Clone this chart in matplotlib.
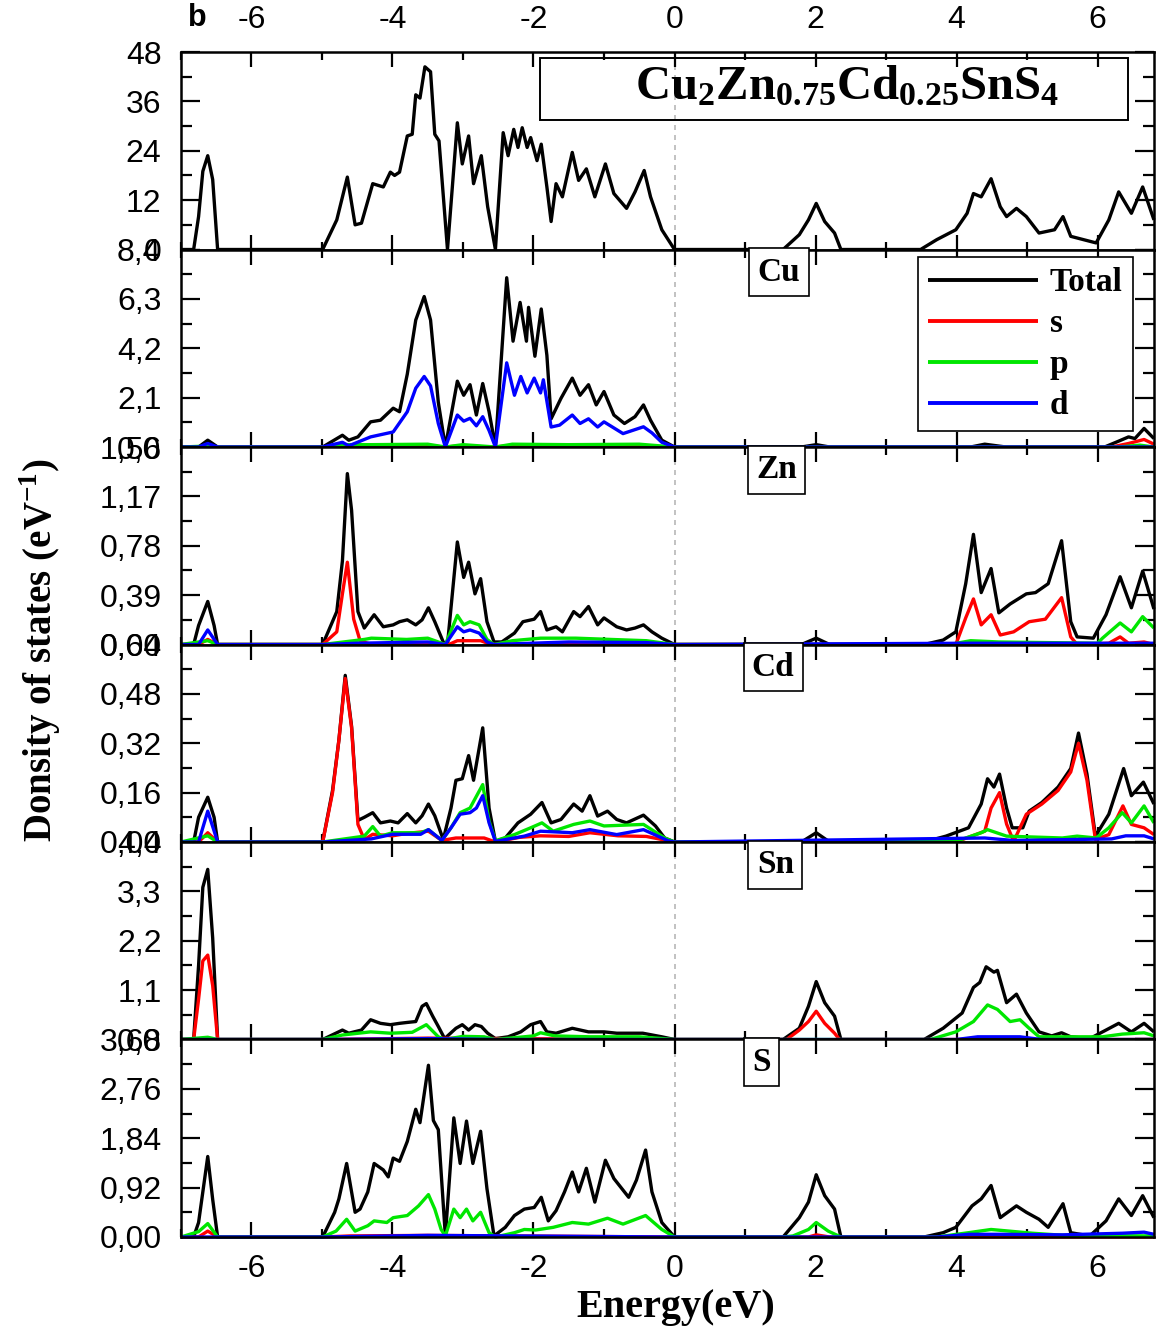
import numpy as np
import matplotlib
matplotlib.use('Agg')
import matplotlib.pyplot as plt
from matplotlib.patches import Rectangle
from matplotlib.ticker import AutoMinorLocator, MultipleLocator
import matplotlib.transforms as mtransforms

plt.rcParams['font.family'] = ['Liberation Sans', 'DejaVu Sans']
plt.rcParams['mathtext.fontset'] = 'custom'
plt.rcParams['mathtext.rm'] = 'Liberation Serif'
plt.rcParams['mathtext.bf'] = 'Liberation Serif:bold'
plt.rcParams['axes.unicode_minus'] = False

# (energy eV, DOS) pairs for each curve

tot_all = [(-7.0, 0), (-6.82, 0), (-6.75, 8), (-6.69, 19), (-6.62, 22.8), (-6.55, 17), (-6.48, 0),
           (-4.99, 0), (-4.79, 7.2), (-4.64, 17.6), (-4.53, 6), (-4.44, 6.4), (-4.28, 16), (-4.13, 15.2),
           (-4.03, 18.8), (-3.97, 18), (-3.90, 18.8), (-3.79, 27.6), (-3.72, 28), (-3.67, 37.6),
           (-3.61, 36.8), (-3.54, 44.4), (-3.46, 43.2), (-3.40, 28), (-3.34, 26.4), (-3.22, 0),
           (-3.08, 30.8), (-3.01, 20.8), (-2.92, 27.6), (-2.85, 16), (-2.74, 22.8), (-2.65, 10.4),
           (-2.54, 0), (-2.43, 28.4), (-2.36, 22.8), (-2.28, 29.2), (-2.22, 24.8), (-2.16, 29.6),
           (-2.09, 24.8), (-2.04, 27.2), (-1.95, 21.6), (-1.89, 25.6), (-1.81, 15.2), (-1.75, 6.8),
           (-1.68, 16), (-1.59, 12.8), (-1.45, 23.6), (-1.36, 16.8), (-1.25, 19.6), (-1.13, 12.8),
           (-0.98, 20.8), (-0.86, 13.6), (-0.68, 10), (-0.56, 14), (-0.43, 19.2), (-0.34, 12.8),
           (-0.18, 4.8), (0.0, 0), (1.54, 0), (1.77, 3.6), (1.90, 7.2), (2.01, 11.2), (2.13, 6.8),
           (2.27, 4), (2.36, 0), (3.49, 0), (3.72, 2.4), (3.99, 4.8), (4.15, 8.8), (4.24, 13.6),
           (4.35, 12.8), (4.49, 17.2), (4.62, 10.4), (4.71, 8), (4.85, 10), (4.99, 8), (5.17, 4),
           (5.39, 4.8), (5.51, 8), (5.62, 3.2), (5.80, 2.4), (5.98, 1.6), (6.16, 7.2), (6.30, 14),
           (6.48, 8.8), (6.64, 15.2), (6.80, 7.2)]

cu_tot = [(-7.0, 0), (-6.75, 0), (-6.62, 0.29), (-6.48, 0), (-4.99, 0), (-4.71, 0.5), (-4.62, 0.29),
          (-4.49, 0.43), (-4.31, 1.07), (-4.17, 1.14), (-3.99, 1.65), (-3.90, 1.5), (-3.79, 3.1),
          (-3.67, 5.4), (-3.55, 6.4), (-3.46, 5.4), (-3.35, 1.9), (-3.25, 0), (-3.08, 2.8), (-2.99, 2.2),
          (-2.90, 2.65), (-2.81, 1.36), (-2.72, 2.7), (-2.63, 1.5), (-2.54, 0), (-2.38, 7.2),
          (-2.29, 4.5), (-2.19, 6.15), (-2.10, 4.5), (-2.07, 5.94), (-1.98, 3.86), (-1.89, 5.87),
          (-1.81, 3.9), (-1.75, 1.2), (-1.61, 2.07), (-1.45, 2.93), (-1.34, 2.2), (-1.22, 2.65),
          (-1.11, 1.79), (-1.0, 2.36), (-0.86, 1.36), (-0.71, 1.0), (-0.56, 1.29), (-0.44, 1.79),
          (-0.34, 1.14), (-0.18, 0.29), (0.0, 0), (1.8, 0), (2.01, 0.1), (2.2, 0), (4.2, 0),
          (4.4, 0.12), (4.7, 0), (6.1, 0), (6.3, 0.25), (6.44, 0.43), (6.53, 0.36), (6.66, 0.79),
          (6.8, 0.36)]
cu_s = [(-7.0, 0), (-4.99, 0), (-4.7, 0.03), (-3.5, 0.05), (-3.25, 0), (-3.08, 0.04), (-2.54, 0),
        (-2.38, 0.05), (0.0, 0), (6.2, 0), (6.44, 0.15), (6.66, 0.32), (6.8, 0.12)]
cu_p = [(-7.0, 0), (-6.62, 0.04), (-6.48, 0), (-4.99, 0), (-4.7, 0.1), (-4.3, 0.1), (-3.5, 0.12),
        (-3.25, 0), (-3.0, 0.1), (-2.54, 0), (-2.3, 0.12), (-1.5, 0.1), (-0.5, 0.12), (0.0, 0),
        (6.3, 0), (6.6, 0.08), (6.8, 0)]
cu_d = [(-7.0, 0), (-6.75, 0), (-6.62, 0.15), (-6.48, 0), (-4.99, 0), (-4.71, 0.2), (-4.62, 0.05),
        (-4.31, 0.43), (-3.99, 0.64), (-3.79, 1.5), (-3.67, 2.5), (-3.55, 3.0), (-3.46, 2.6),
        (-3.35, 1.0), (-3.25, 0), (-3.08, 1.36), (-2.99, 1.1), (-2.90, 1.22), (-2.81, 0.9),
        (-2.72, 1.29), (-2.63, 0.7), (-2.54, 0), (-2.38, 3.58), (-2.27, 2.2), (-2.18, 3.0),
        (-2.09, 2.3), (-1.99, 2.93), (-1.90, 2.3), (-1.86, 2.86), (-1.75, 0.85), (-1.63, 0.93),
        (-1.45, 1.36), (-1.34, 1.0), (-1.22, 1.2), (-1.09, 0.85), (-1.0, 1.07), (-0.73, 0.57),
        (-0.44, 0.86), (-0.32, 0.6), (-0.18, 0.2), (0.0, 0), (6.8, 0)]

zn_tot = [(-7.0, 0), (-6.82, 0), (-6.75, 0.15), (-6.62, 0.34), (-6.53, 0.15), (-6.48, 0), (-4.99, 0),
          (-4.79, 0.26), (-4.71, 0.66), (-4.64, 1.35), (-4.58, 1.06), (-4.49, 0.26), (-4.40, 0.13),
          (-4.26, 0.235), (-4.13, 0.14), (-3.99, 0.155), (-3.90, 0.18), (-3.79, 0.195), (-3.67, 0.155),
          (-3.58, 0.195), (-3.49, 0.29), (-3.40, 0.18), (-3.28, 0.02), (-3.22, 0), (-3.08, 0.81),
          (-2.99, 0.53), (-2.92, 0.65), (-2.83, 0.4), (-2.75, 0.52), (-2.66, 0.18), (-2.56, 0.02),
          (-2.45, 0.02), (-2.27, 0.09), (-2.15, 0.18), (-1.99, 0.2), (-1.90, 0.26), (-1.81, 0.115),
          (-1.68, 0.14), (-1.59, 0.10), (-1.43, 0.26), (-1.34, 0.22), (-1.22, 0.30), (-1.09, 0.155),
          (-1.0, 0.21), (-0.82, 0.14), (-0.68, 0.115), (-0.56, 0.13), (-0.44, 0.155), (-0.32, 0.1),
          (-0.18, 0.05), (0.0, 0), (1.8, 0), (2.01, 0.05), (2.2, 0), (3.54, 0), (3.81, 0.035),
          (3.99, 0.1), (4.13, 0.48), (4.24, 0.87), (4.35, 0.41), (4.49, 0.6), (4.60, 0.25),
          (4.76, 0.32), (4.99, 0.40), (5.12, 0.41), (5.30, 0.48), (5.49, 0.82), (5.62, 0.18),
          (5.71, 0.06), (5.94, 0.05), (6.12, 0.235), (6.32, 0.535), (6.48, 0.29), (6.64, 0.58),
          (6.80, 0.28)]
zn_s = [(-7.0, 0), (-6.75, 0), (-6.62, 0.04), (-6.48, 0), (-4.99, 0), (-4.79, 0.1), (-4.71, 0.4),
        (-4.64, 0.65), (-4.55, 0.2), (-4.46, 0.03), (-4.3, 0), (-3.2, 0), (-3.08, 0.03), (-2.75, 0.03),
        (-2.6, 0), (-1.5, 0.01), (0.0, 0), (3.99, 0), (4.13, 0.21), (4.24, 0.36), (4.35, 0.155),
        (4.49, 0.235), (4.62, 0.075), (4.81, 0.1), (5.03, 0.18), (5.26, 0.2), (5.49, 0.37),
        (5.62, 0.06), (5.71, 0), (6.16, 0.01), (6.32, 0.06), (6.44, 0.01), (6.66, 0.02), (6.8, 0)]
zn_p = [(-7.0, 0), (-6.62, 0.03), (-6.48, 0), (-4.99, 0), (-4.4, 0.04), (-4.3, 0.05), (-3.8, 0.04),
        (-3.5, 0.05), (-3.25, 0), (-3.08, 0.23), (-2.99, 0.155), (-2.90, 0.18), (-2.77, 0.155),
        (-2.66, 0.04), (-2.56, 0), (-2.3, 0.03), (-1.9, 0.05), (-1.4, 0.05), (-0.9, 0.04),
        (-0.4, 0.03), (0.0, 0), (3.9, 0), (4.2, 0.03), (4.6, 0.02), (6.0, 0.01), (6.07, 0.05),
        (6.32, 0.17), (6.48, 0.1), (6.64, 0.22), (6.80, 0.13)]
zn_d = [(-7.0, 0), (-6.75, 0), (-6.62, 0.115), (-6.48, 0), (-4.99, 0), (-4.5, 0.01), (-3.5, 0.02),
        (-3.25, 0), (-3.08, 0.14), (-2.99, 0.10), (-2.90, 0.115), (-2.77, 0.09), (-2.66, 0.02),
        (-2.56, 0), (-1.5, 0.02), (-0.4, 0.015), (0.0, 0), (4.2, 0.01), (6.8, 0.01)]

cd_tot = [(-7.0, 0), (-6.82, 0), (-6.75, 0.08), (-6.62, 0.145), (-6.53, 0.08), (-6.48, 0), (-4.99, 0),
          (-4.85, 0.167), (-4.76, 0.33), (-4.67, 0.54), (-4.58, 0.375), (-4.49, 0.07), (-4.40, 0.08),
          (-4.28, 0.095), (-4.17, 0.062), (-4.03, 0.068), (-3.92, 0.062), (-3.79, 0.092),
          (-3.67, 0.062), (-3.58, 0.085), (-3.49, 0.123), (-3.40, 0.085), (-3.28, 0.008),
          (-3.17, 0.11), (-3.10, 0.2), (-3.01, 0.205), (-2.92, 0.28), (-2.85, 0.2), (-2.72, 0.37),
          (-2.63, 0.11), (-2.54, 0.002), (-2.40, 0.013), (-2.22, 0.062), (-2.04, 0.09),
          (-1.88, 0.128), (-1.75, 0.062), (-1.61, 0.073), (-1.43, 0.123), (-1.31, 0.10),
          (-1.20, 0.15), (-1.09, 0.084), (-0.95, 0.10), (-0.82, 0.073), (-0.68, 0.062),
          (-0.44, 0.087), (-0.27, 0.052), (-0.14, 0.013), (0.0, 0), (1.8, 0), (2.01, 0.03), (2.2, 0),
          (3.54, 0), (3.85, 0.019), (4.17, 0.046), (4.35, 0.123), (4.44, 0.205), (4.53, 0.178),
          (4.61, 0.22), (4.71, 0.11), (4.79, 0.046), (4.94, 0.046), (5.03, 0.10), (5.21, 0.128),
          (5.44, 0.178), (5.62, 0.238), (5.73, 0.353), (5.85, 0.22), (5.97, 0.019), (6.16, 0.09),
          (6.37, 0.238), (6.48, 0.15), (6.65, 0.194), (6.80, 0.123)]
cd_s = [(-7.0, 0), (-6.75, 0), (-6.62, 0.03), (-6.48, 0), (-4.99, 0), (-4.85, 0.16), (-4.76, 0.33),
        (-4.67, 0.53), (-4.58, 0.37), (-4.49, 0.057), (-4.40, 0.008), (-4.28, 0.025), (-4.0, 0.02),
        (-3.79, 0.028), (-3.49, 0.035), (-3.3, 0.005), (-3.1, 0.013), (-2.7, 0.013), (-2.54, 0),
        (-2.2, 0.015), (-1.9, 0.02), (-1.5, 0.018), (-1.2, 0.03), (-0.8, 0.02), (-0.4, 0.018),
        (0.0, 0), (3.99, 0), (4.40, 0.035), (4.49, 0.11), (4.61, 0.16), (4.71, 0.058), (4.81, 0.002),
        (4.99, 0.09), (5.21, 0.123), (5.44, 0.167), (5.62, 0.227), (5.73, 0.32), (5.85, 0.2),
        (5.97, 0.008), (6.16, 0.024), (6.36, 0.117), (6.48, 0.057), (6.66, 0.046), (6.80, 0.024)]
cd_p = [(-7.0, 0), (-6.62, 0.02), (-6.48, 0), (-4.99, 0), (-4.40, 0.019), (-4.28, 0.05), (-4.17, 0.019),
        (-4.0, 0.03), (-3.6, 0.03), (-3.49, 0.04), (-3.3, 0.005), (-3.17, 0.046), (-3.04, 0.095),
        (-2.90, 0.11), (-2.72, 0.186), (-2.63, 0.068), (-2.54, 0.004), (-2.27, 0.024), (-2.04, 0.046),
        (-1.88, 0.062), (-1.72, 0.035), (-1.43, 0.057), (-1.20, 0.068), (-1.0, 0.052), (-0.44, 0.057),
        (-0.14, 0.013), (0.0, 0), (3.99, 0.002), (4.35, 0.03), (4.44, 0.04), (4.71, 0.019),
        (5.5, 0.013), (5.71, 0.019), (5.98, 0.013), (6.16, 0.046), (6.35, 0.095), (6.48, 0.062),
        (6.66, 0.117), (6.80, 0.062)]
cd_d = [(-7.0, 0), (-6.75, 0), (-6.62, 0.10), (-6.48, 0), (-4.99, 0), (-4.3, 0.01), (-4.0, 0.025),
        (-3.6, 0.025), (-3.49, 0.04), (-3.3, 0.005), (-3.17, 0.046), (-3.04, 0.09), (-2.90, 0.095),
        (-2.81, 0.11), (-2.72, 0.15), (-2.63, 0.062), (-2.54, 0.002), (-2.13, 0.019), (-1.90, 0.035),
        (-1.45, 0.03), (-1.20, 0.04), (-0.82, 0.024), (-0.44, 0.04), (-0.09, 0.004), (0.0, 0),
        (4.4, 0.013), (4.8, 0.005), (6.2, 0.01), (6.4, 0.02), (6.66, 0.02), (6.8, 0.01)]

sn_tot = [(-7.0, 0), (-6.82, 0), (-6.75, 1.65), (-6.69, 3.39), (-6.62, 3.79), (-6.55, 2.26), (-6.48, 0),
          (-4.99, 0), (-4.71, 0.21), (-4.62, 0.14), (-4.44, 0.21), (-4.31, 0.44), (-4.17, 0.36),
          (-4.03, 0.33), (-3.90, 0.36), (-3.79, 0.38), (-3.67, 0.40), (-3.58, 0.74), (-3.52, 0.80),
          (-3.43, 0.52), (-3.35, 0.29), (-3.26, 0.02), (-3.10, 0.25), (-3.01, 0.33), (-2.92, 0.21),
          (-2.83, 0.33), (-2.74, 0.29), (-2.65, 0.14), (-2.54, 0.02), (-2.36, 0.06), (-2.18, 0.17),
          (-2.04, 0.33), (-1.90, 0.40), (-1.81, 0.17), (-1.68, 0.14), (-1.45, 0.25), (-1.22, 0.17),
          (-1.0, 0.17), (-0.82, 0.14), (-0.45, 0.14), (-0.18, 0.06), (0.0, 0), (1.54, 0), (1.77, 0.25),
          (1.90, 0.74), (2.01, 1.29), (2.13, 0.82), (2.27, 0.52), (2.36, 0), (3.54, 0), (3.81, 0.25),
          (4.08, 0.59), (4.24, 1.16), (4.33, 1.27), (4.42, 1.62), (4.53, 1.5), (4.58, 1.54),
          (4.71, 0.82), (4.85, 1.01), (4.99, 0.59), (5.17, 0.17), (5.35, 0.08), (5.49, 0.15),
          (5.62, 0.06), (5.89, 0.02), (6.12, 0.21), (6.30, 0.36), (6.48, 0.17), (6.66, 0.36),
          (6.80, 0.17)]
sn_s = [(-7.0, 0), (-6.82, 0), (-6.75, 0.9), (-6.69, 1.75), (-6.62, 1.88), (-6.55, 1.2), (-6.48, 0),
        (-4.99, 0), (-3.5, 0.03), (0.0, 0), (1.59, 0), (1.77, 0.21), (1.90, 0.40), (2.01, 0.63),
        (2.13, 0.36), (2.27, 0.14), (2.34, 0), (4.0, 0), (4.5, 0.03), (5.0, 0), (6.8, 0)]
sn_p = [(-7.0, 0), (-6.62, 0.05), (-6.48, 0), (-4.99, 0), (-4.71, 0.1), (-4.31, 0.17), (-4.03, 0.14),
        (-3.72, 0.16), (-3.52, 0.33), (-3.35, 0.06), (-3.26, 0), (-3.0, 0.07), (-2.7, 0.06),
        (-2.54, 0), (-2.0, 0.08), (-1.9, 0.15), (-1.7, 0.08), (-1.2, 0.06), (-0.5, 0.06), (0.0, 0),
        (3.63, 0), (3.99, 0.17), (4.24, 0.40), (4.44, 0.77), (4.58, 0.67), (4.76, 0.40),
        (4.90, 0.44), (5.03, 0.25), (5.17, 0.06), (6.07, 0.06), (6.35, 0.12), (6.66, 0.15),
        (6.80, 0.08)]
sn_d = [(-7.0, 0), (-5.0, 0), (-3.5, 0.02), (-2.5, 0), (4.0, 0), (4.3, 0.06), (4.9, 0.06), (5.2, 0),
        (6.8, 0)]

s_tot = [(-7.0, 0), (-6.82, 0), (-6.75, 0.27), (-6.62, 1.5), (-6.55, 0.7), (-6.48, 0), (-4.99, 0),
         (-4.82, 0.46), (-4.76, 0.71), (-4.65, 1.37), (-4.53, 0.46), (-4.46, 0.52), (-4.35, 0.84),
         (-4.26, 1.37), (-4.13, 1.25), (-4.06, 1.12), (-3.99, 1.47), (-3.90, 1.41), (-3.79, 1.78),
         (-3.67, 2.38), (-3.61, 2.13), (-3.49, 3.2), (-3.42, 2.17), (-3.35, 2.0), (-3.25, 0.02),
         (-3.13, 2.22), (-3.04, 1.37), (-2.95, 2.16), (-2.86, 1.37), (-2.75, 1.97), (-2.66, 0.90),
         (-2.56, 0.02), (-2.40, 0.18), (-2.27, 0.40), (-2.13, 0.52), (-1.99, 0.55), (-1.89, 0.74),
         (-1.79, 0.30), (-1.68, 0.49), (-1.56, 0.84), (-1.45, 1.21), (-1.36, 0.84), (-1.25, 1.28),
         (-1.13, 0.65), (-0.98, 1.43), (-0.86, 1.09), (-0.65, 0.74), (-0.54, 1.06), (-0.41, 1.62),
         (-0.32, 0.84), (-0.18, 0.27), (0.0, 0), (1.54, 0), (1.77, 0.36), (1.90, 0.65), (2.01, 1.16),
         (2.13, 0.77), (2.27, 0.52), (2.36, 0), (3.54, 0), (3.81, 0.08), (3.99, 0.18), (4.22, 0.58),
         (4.35, 0.71), (4.49, 0.96), (4.62, 0.36), (4.85, 0.58), (4.99, 0.46), (5.17, 0.33),
         (5.30, 0.18), (5.51, 0.62), (5.62, 0.08), (5.89, 0.02), (6.12, 0.30), (6.30, 0.71),
         (6.48, 0.40), (6.64, 0.77), (6.80, 0.36)]
s_s = [(-7.0, 0), (-6.75, 0), (-6.62, 0.11), (-6.48, 0), (-4.99, 0), (-4.6, 0.02), (-3.5, 0.03),
       (0.0, 0), (1.9, 0.0), (2.01, 0.04), (2.2, 0), (6.8, 0)]
s_p = [(-7.0, 0), (-6.75, 0.1), (-6.62, 0.25), (-6.48, 0), (-4.99, 0), (-4.8, 0.11), (-4.65, 0.33),
       (-4.53, 0.11), (-4.35, 0.21), (-4.26, 0.30), (-4.08, 0.27), (-3.99, 0.36), (-3.79, 0.40),
       (-3.63, 0.58), (-3.49, 0.79), (-3.40, 0.52), (-3.31, 0.14), (-3.25, 0.02), (-3.13, 0.52),
       (-3.04, 0.36), (-2.95, 0.52), (-2.86, 0.30), (-2.75, 0.46), (-2.63, 0.08), (-2.54, 0),
       (-2.27, 0.08), (-2.13, 0.14), (-1.97, 0.13), (-1.72, 0.18), (-1.45, 0.27), (-1.22, 0.24),
       (-0.95, 0.35), (-0.73, 0.24), (-0.41, 0.40), (-0.18, 0.14), (0.0, 0), (1.54, 0), (1.68, 0.02),
       (1.90, 0.14), (2.01, 0.27), (2.18, 0.11), (2.36, 0), (3.72, 0), (4.17, 0.08), (4.49, 0.14),
       (5.08, 0.07), (5.53, 0.03), (6.8, 0.02)]
s_d = [(-7.0, 0), (-4.99, 0), (-3.5, 0.03), (0.0, 0), (3.72, 0), (4.17, 0.05), (4.62, 0.05),
       (5.5, 0.04), (6.35, 0.07), (6.66, 0.09), (6.80, 0.05)]

# panel name, curves (total, s, p, d), y max, y step, decimals on tick labels
panels = [
    ('', [tot_all], 48, 12, 0),
    ('Cu', [cu_tot, cu_s, cu_p, cu_d], 8.4, 2.1, 1),
    ('Zn', [zn_tot, zn_s, zn_p, zn_d], 1.56, 0.39, 2),
    ('Cd', [cd_tot, cd_s, cd_p, cd_d], 0.64, 0.16, 2),
    ('Sn', [sn_tot, sn_s, sn_p, sn_d], 4.4, 1.1, 1),
    ('S', [s_tot, s_s, s_p, s_d], 3.68, 0.92, 2),
]
name_x = {'Cu': 1.48, 'Zn': 1.45, 'Cd': 1.40, 'Sn': 1.43, 'S': 1.23}
colors = ['black', '#ff0000', '#00e600', '#0000ff']
labels = ['Total', 's', 'p', 'd']

serif_bold = dict(family='Liberation Serif', weight='bold')

fig = plt.figure(figsize=(11.72, 13.37), dpi=100)
axes = fig.subplots(6, 1, sharex=True, gridspec_kw=dict(hspace=0))
fig.subplots_adjust(left=0.1544, right=0.9846, top=0.9611, bottom=0.0748)

for i, (ax, (name, curves, ymax, step, dec)) in enumerate(zip(axes, panels)):
    ax.axvline(0, color='#b8b8b8', lw=1.2, ls=(0, (3, 3)), zorder=0)
    for curve, col, lab in zip(curves, colors, labels):
        e, dos = np.array(curve).T
        ax.plot(e, dos, color=col, lw=2.4, label=lab, clip_on=False,
                solid_capstyle='butt', solid_joinstyle='round')

    ax.set_xlim(-7.0, 6.8)
    ax.set_ylim(0, ymax)
    yt = [step * k for k in range(5)]
    ax.set_yticks(yt)
    ax.set_yticklabels([('{:.%df}' % dec).format(v).replace('.', ',') for v in yt])
    ax.yaxis.set_minor_locator(AutoMinorLocator(2))
    ax.xaxis.set_major_locator(MultipleLocator(2))
    ax.xaxis.set_minor_locator(MultipleLocator(1))

    ax.tick_params(which='both', direction='in', top=True, right=True, width=1.6,
                   labelsize=23, colors='black')
    ax.tick_params(axis='x', which='major', length=11, pad=12)
    ax.tick_params(axis='x', which='minor', length=6)
    ax.tick_params(axis='y', which='major', length=14, pad=14)
    ax.tick_params(axis='y', which='minor', length=8)
    for sp in ax.spines.values():
        sp.set_linewidth(1.8)

    if i == 0:
        ax.tick_params(axis='x', labeltop=True)
        ax.add_patch(Rectangle((-1.91, 31.5), 8.34, 15.0, fill=False, ec='black', lw=1.4))
        ax.text(2.45, 39.5, r'$\mathbf{Cu_2Zn_{0.75}Cd_{0.25}SnS_4}$', fontsize=35,
                ha='center', va='center')
    else:
        trans = mtransforms.blended_transform_factory(ax.transData, ax.transAxes)
        ax.text(name_x[name], 0.885, name, transform=trans, fontsize=24, ha='center',
                va='center', bbox=dict(boxstyle='square,pad=0.25', fc='white', ec='black', lw=1.2),
                **serif_bold)

    if name == 'Cu':
        leg = ax.legend(loc='upper right', bbox_to_anchor=(0.978, 0.96), borderaxespad=0,
                        fancybox=False, edgecolor='black', framealpha=1, handlelength=3.3,
                        handletextpad=0.35, labelspacing=0.3, borderpad=0.3,
                        prop=dict(family='Liberation Serif', weight='bold', size=24))
        leg.get_frame().set_linewidth(1.2)
        for ln in leg.get_lines():
            ln.set_linewidth(2.8)

fig.text(197 / 1172, 1 - 18 / 1337, 'b', fontsize=22, fontweight='bold', ha='center', va='center')
fig.text(40 / 1172, 1 - 650 / 1337, r'Donsity of states (eV$^{\mathbf{-1}}$)', rotation=90,
         fontsize=28, ha='center', va='center', **serif_bold)
fig.text(676 / 1172, 1 - 1308 / 1337, 'Energy(eV)', fontsize=29, ha='center', va='center',
         **serif_bold)

fig.savefig('out.png', dpi=100)
